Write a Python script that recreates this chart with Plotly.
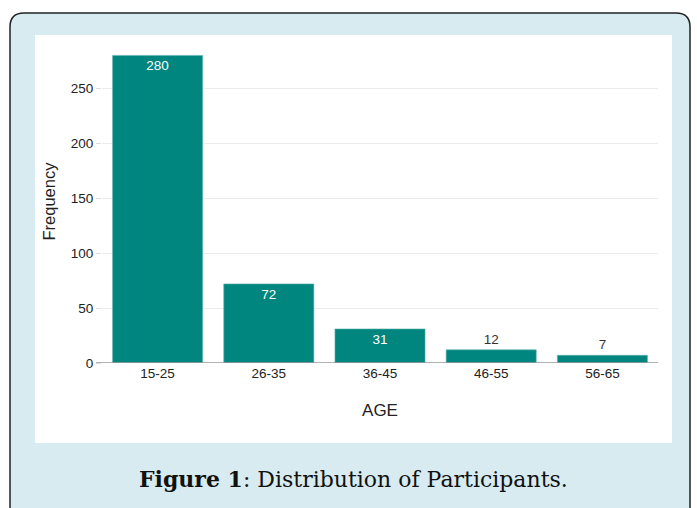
import plotly.graph_objects as go

# Age groups and participant counts
age_groups = ["15-25", "26-35", "36-45", "46-55", "56-65"]
frequency = [280, 72, 31, 12, 7]

W, H = 697, 508
L, R, T, B = 102, 658, 40, 363   # plot area in pixels


def px(x):
    return (x - L) / (R - L)


def py(y):
    return (B - y) / (B - T)


bar_color = "#00857f"
panel_color = "#d7ebf0"
sans = "Liberation Sans, Arial"

fig = go.Figure()
fig.add_trace(go.Bar(
    x=age_groups,
    y=frequency,
    marker=dict(color=bar_color, line=dict(color="#5fb3ad", width=0.6)),
    text=[str(v) for v in frequency],
    textposition="auto",
    insidetextanchor="end",
    insidetextfont=dict(color="white", size=13.5, family=sans),
    outsidetextfont=dict(color="#333333", size=13.5, family=sans),
    cliponaxis=False,
    hoverinfo="skip",
))

# rounded light-blue panel with dark outline
r = 14
x0, x1, y0, y1 = 10, 690, 13, 530
path = (
    f"M {px(x0 + r)} {py(y0)} L {px(x1 - r)} {py(y0)} "
    f"Q {px(x1)} {py(y0)} {px(x1)} {py(y0 + r)} "
    f"L {px(x1)} {py(y1)} L {px(x0)} {py(y1)} L {px(x0)} {py(y0 + r)} "
    f"Q {px(x0)} {py(y0)} {px(x0 + r)} {py(y0)} Z"
)
shapes = [
    dict(type="path", xref="paper", yref="paper", path=path,
         fillcolor=panel_color, line=dict(color="#222222", width=1.5), layer="below"),
    dict(type="rect", xref="paper", yref="paper",
         x0=px(35), x1=px(672), y0=py(443), y1=py(35),
         fillcolor="white", line=dict(width=0), layer="below"),
    # baseline, extending slightly left of the plot area
    dict(type="line", xref="paper", yref="y", x0=px(96), x1=1, y0=0, y1=0,
         line=dict(color="#999999", width=1.5), layer="above"),
]

fig.update_layout(
    width=W, height=H,
    margin=dict(l=L, r=W - R, t=T, b=H - B, pad=0),
    paper_bgcolor="white",
    plot_bgcolor="rgba(0,0,0,0)",
    bargap=0.19,
    showlegend=False,
    shapes=shapes,
    font=dict(family=sans, color="#333333", size=13),
    xaxis=dict(
        showgrid=False, showline=False, zeroline=False, ticks="",
        tickfont=dict(size=13.5, color="#222222"),
        title=dict(text="AGE", font=dict(size=17, color="#222222"), standoff=24),
    ),
    yaxis=dict(
        range=[0, 294],
        tickvals=[0, 50, 100, 150, 200, 250],
        showgrid=True, gridcolor="#ebebeb", gridwidth=1,
        zeroline=False, showline=False,
        ticks="outside", ticklen=5, tickcolor="#dddddd",
        tickfont=dict(size=13.5, color="#222222"),
        title=dict(text="Frequency", font=dict(size=16.5, color="#222222"), standoff=10),
    ),
    annotations=[
        dict(
            text="<b>Figure 1</b>: Distribution of Participants.",
            xref="paper", yref="paper", x=px(353), y=py(479),
            xanchor="center", yanchor="middle", showarrow=False,
            font=dict(family="DejaVu Serif, serif", size=22, color="#111111"),
        )
    ],
)

fig.write_html("out.html")
